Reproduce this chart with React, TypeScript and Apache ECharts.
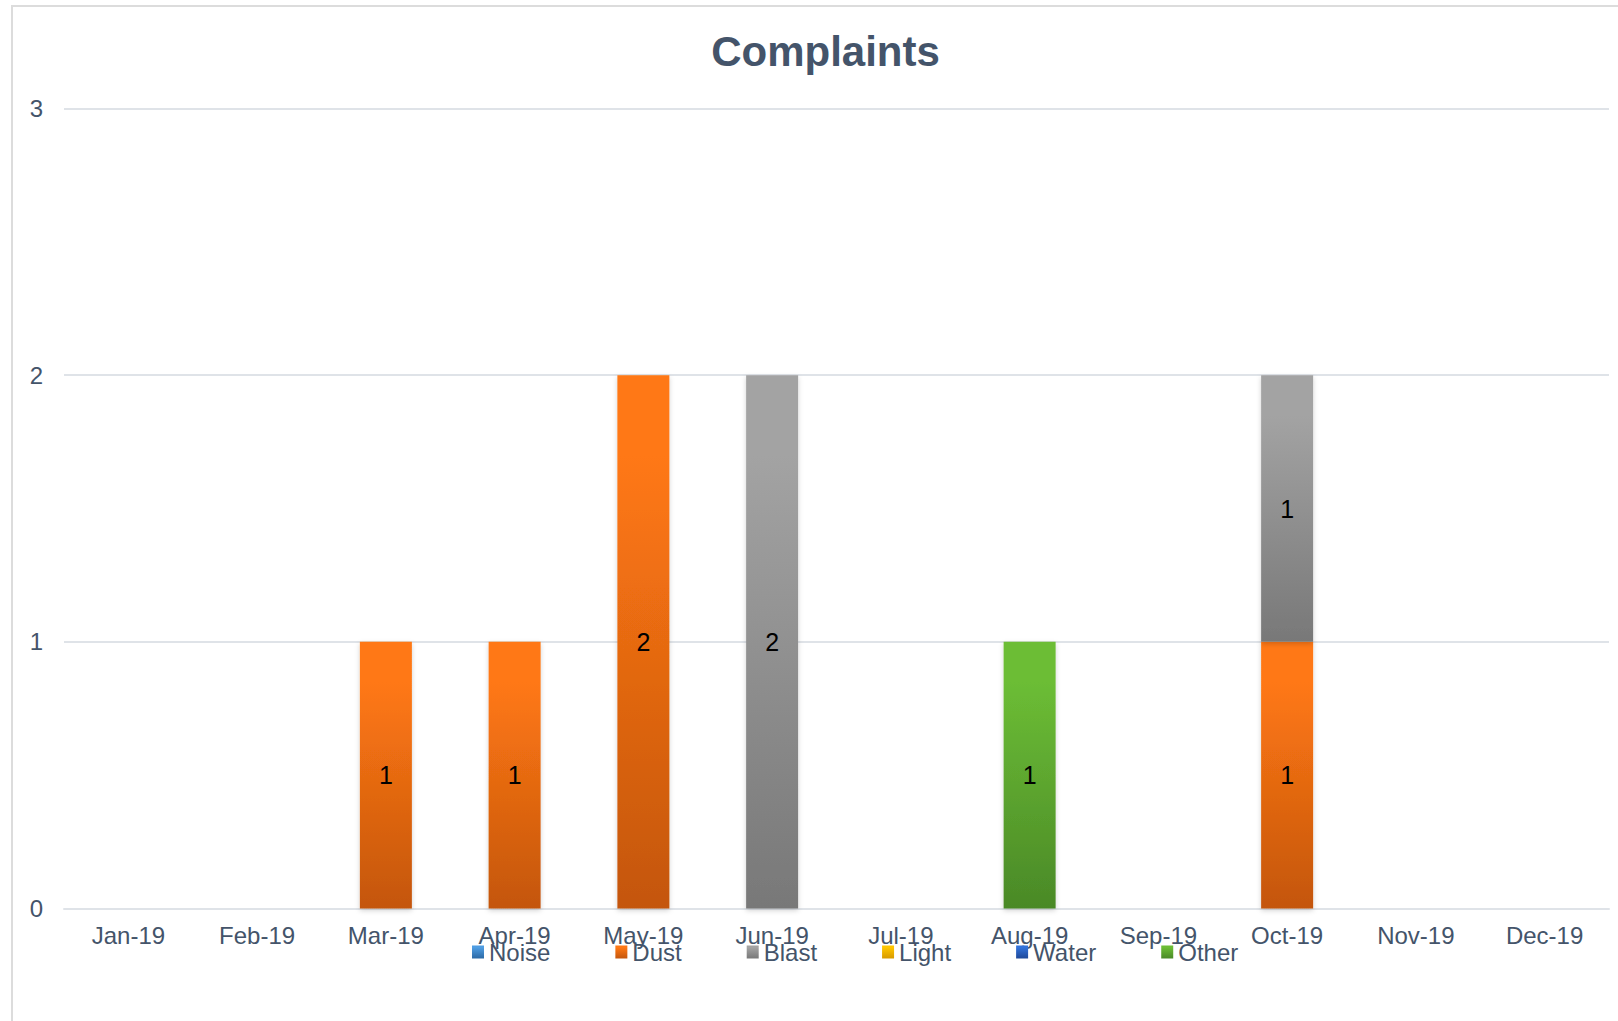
import React, { useEffect, useRef } from "react";
import * as echarts from "echarts";

const months = ["Jan-19", "Feb-19", "Mar-19", "Apr-19", "May-19", "Jun-19", "Jul-19", "Aug-19", "Sep-19", "Oct-19", "Nov-19", "Dec-19"];
const seriesNames = ["Noise", "Dust", "Blast", "Light", "Water", "Other"];
const noise = [null, null, null, null, null, null, null, null, null, null, null, null];
const dust = [null, null, 1, 1, 2, null, null, null, null, 1, null, null];
const blast = [null, null, null, null, null, 2, null, null, null, 1, null, null];
const light = [null, null, null, null, null, null, null, null, null, null, null, null];
const water = [null, null, null, null, null, null, null, null, null, null, null, null];
const other = [null, null, null, null, null, null, null, 1, null, null, null, null];
const yMin = 0;
const yMax = 3;
const yInterval = 1;

const FONT = "'Liberation Sans', Arial, sans-serif";
const TEXT = "#44546a";

const palette: [string, string][] = [
  ["#4f9de2", "#2c69a5"],
  ["#ff7814", "#c4560d"],
  ["#a3a3a3", "#787878"],
  ["#ffc600", "#d79a00"],
  ["#3272da", "#1e4898"],
  ["#6cbd35", "#4a8927"],
];

function grad(top: string, bottom: string) {
  return new echarts.graphic.LinearGradient(0, 0, 0, 1, [
    { offset: 0, color: top },
    { offset: 0.15, color: top },
    { offset: 1, color: bottom },
  ]);
}

export default function App() {
  const ref = useRef<HTMLDivElement>(null);
  useEffect(() => {
    if (!ref.current) return;
    const chart = echarts.init(ref.current, null, { renderer: "svg" });
    const data = [noise, dust, blast, light, water, other];
    chart.setOption({
      animation: false,
      backgroundColor: "#ffffff",
      textStyle: { fontFamily: FONT },
      graphic: [
        {
          type: "rect",
          shape: { x: 12, y: 6, width: 1700, height: 1100 },
          style: { fill: "none", stroke: "#dcdcdc", lineWidth: 2 },
          silent: true,
          z: -10,
        },
        {
          type: "text",
          x: 825.5,
          y: 51,
          style: {
            text: "Complaints",
            fill: TEXT,
            font: `bold 42px ${FONT}`,
            textAlign: "center",
            textVerticalAlign: "middle",
          },
        },
      ],
      grid: { left: 64, right: 9, top: 108.5, bottom: 112.5, containLabel: false },
      legend: {
        data: seriesNames,
        left: 467,
        top: 935,
        itemWidth: 12,
        itemHeight: 13,
        itemGap: 65,
        icon: "rect",
        textStyle: { color: TEXT, fontSize: 24, fontFamily: FONT },
      },
      xAxis: {
        type: "category",
        data: months,
        axisLine: { show: true, lineStyle: { color: "#dfe3e8", width: 2 } },
        axisTick: { show: false },
        axisLabel: { color: TEXT, fontSize: 24, fontFamily: FONT, margin: 15, interval: 0 },
      },
      yAxis: {
        type: "value",
        min: yMin,
        max: yMax,
        interval: yInterval,
        axisLine: { show: false },
        axisTick: { show: false },
        splitLine: { lineStyle: { color: "#dfe3e8", width: 2 } },
        axisLabel: { color: TEXT, fontSize: 24, fontFamily: FONT, margin: 21 },
      },
      series: seriesNames.map((name, i) => ({
        name,
        type: "bar",
        stack: "total",
        barWidth: 52,
        data: data[i],
        itemStyle: {
          color: grad(palette[i][0], palette[i][1]),
          shadowColor: "rgba(0,0,0,0.18)",
          shadowBlur: 5,
          shadowOffsetY: 2,
        },
        label: {
          show: true,
          position: "inside",
          color: "#000000",
          fontSize: 25,
          fontFamily: FONT,
          formatter: (p: any) => (p.value == null ? "" : String(p.value)),
        },
      })),
    });
    return () => chart.dispose();
  }, []);
  return (
    <div
      ref={ref}
      style={{ position: "fixed", left: 0, top: 0, width: 1618, height: 1021 }}
    />
  );
}
